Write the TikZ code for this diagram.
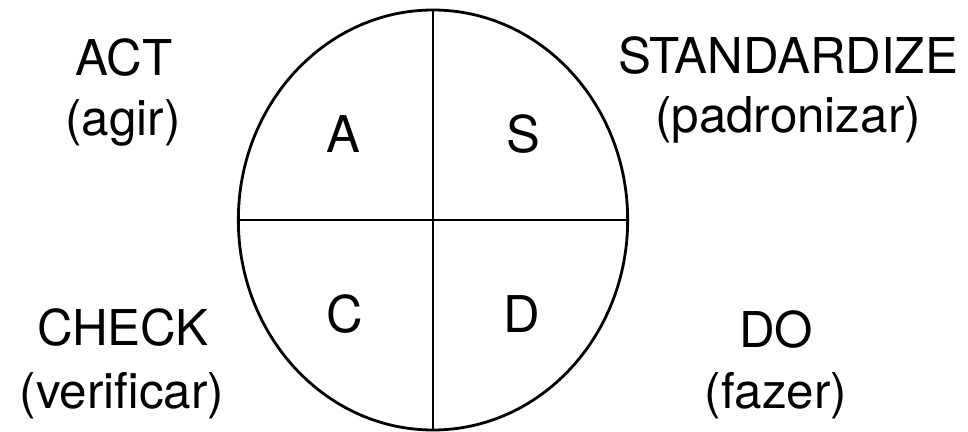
\documentclass[tikz,border=0pt]{standalone}
\usepackage{fontspec}
\setmainfont{TeX Gyre Heros}
\usetikzlibrary{shapes.geometric}
\tikzset{
  word/.style={anchor=base,inner sep=0pt,font=\fontsize{37}{44}\selectfont},
  letter/.style={anchor=base,inner sep=0pt,font=\fontsize{38}{44}\selectfont}
}
\begin{document}
\begin{tikzpicture}[x=0.75pt,y=-0.75pt,line width=2.1pt]
\useasboundingbox (0,0) rectangle (968,432);
\node[draw,ellipse,inner sep=0pt,minimum width=292pt,minimum height=315pt] (wheel) at (433,220) {};
\draw (wheel.north) -- (wheel.south);
\draw (wheel.west) -- (wheel.east);
\node[letter] (a) at (343,152) {A};
\node[letter] (s) at (523,152) {S};
\node[letter] (c) at (345,332) {C};
\node[letter] (d) at (522,332) {D};
\node[word] (act) at (124,75) {ACT};
\node[word] (act-pt) at (123,135) {(agir)};
\node[word] (std) at (788,73) {STANDARDIZE};
\node[word] (std-pt) at (788,132) {(padronizar)};
\node[word] (check) at (123,345) {CHECK};
\node[word] (check-pt) at (122,408) {(verificar)};
\node[word] (do) at (776,347) {DO};
\node[word] (do-pt) at (776,408) {(fazer)};
\end{tikzpicture}
\end{document}
